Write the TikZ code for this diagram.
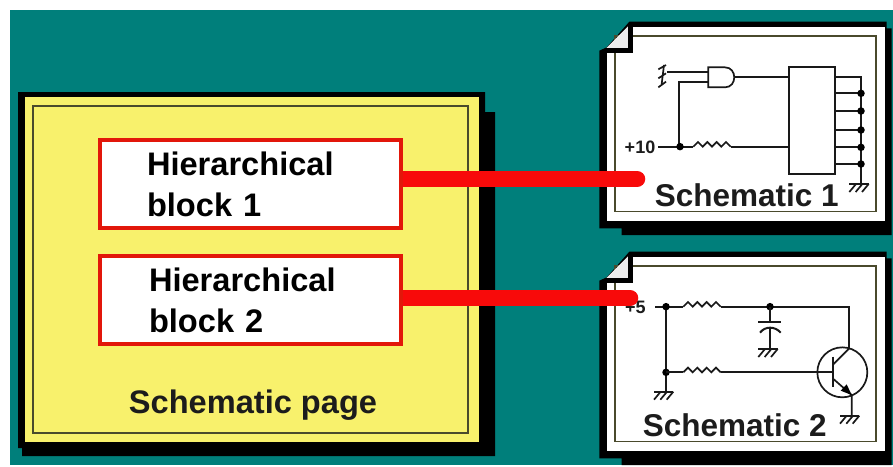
\documentclass[tikz,border=0pt]{standalone}
\usepackage{fontspec}
\setmainfont{Liberation Sans}
\definecolor{tealbg}{HTML}{007F7B}
\definecolor{pageyellow}{HTML}{F8F16C}
\definecolor{linkred}{HTML}{F80A0A}
\definecolor{blockred}{HTML}{E2170A}
\definecolor{innerline}{HTML}{4A4A2C}
\definecolor{inktext}{HTML}{1C1C1C}
\tikzset{
  blockbox/.style={draw=blockred,line width=4pt,fill=white,inner ysep=0pt,minimum height=88.5pt,align=left,text=black,
    font=\fontsize{32.6}{41}\selectfont\bfseries},
  biglabel/.style={anchor=base,inner sep=0pt,text=inktext,font=\fontsize{31.5}{36}\selectfont\bfseries},
  pagelabelstyle/.style={anchor=base,inner sep=0pt,text=inktext,font=\fontsize{32.6}{36}\selectfont\bfseries},
  smalllabel/.style={anchor=base,inner sep=0pt,text=inktext,font=\fontsize{18}{20}\selectfont\bfseries},
  wire/.style={line width=1.7pt,draw=black!90},
  link/.style={draw=linkred,line width=16.5pt,line cap=round},
  dotmark/.style={circle,fill=black,inner sep=0pt,minimum size=7.5pt}
}
% folder-style sheet frame, in 3x zoom units
\newcommand{\sheetframe}{%
  \fill[black] (118,35) -- (890,35) -- (890,55) -- (905,55) -- (905,675) -- (95,675) -- (95,655) -- (28,655) -- (28,122) -- (50,112) -- cycle;
  \fill[white] (130,52) rectangle (885,632);
  \fill[white] (50,130) rectangle (885,632);
  \draw[innerline,line width=1.6pt] (75,78) rectangle (858,605);
  \fill[white] (130,52) rectangle (135,74);
  \fill[white!93!black] (48,115) -- (115,48) -- (115,115) -- cycle;
  \draw[black,line width=5pt] (122,46) -- (122,122) -- (45,122);
}
\newcommand{\gndmark}[2]{%
  \draw[wire] (#1-30,#2) -- (#1+28,#2);
  \draw[wire] (#1-10,#2) -- ++(-20,24) (#1+9,#2) -- ++(-20,24) (#1+28,#2) -- ++(-20,24);
}
\newcommand{\resmark}[2]{%
  \draw[wire] (#1,#2) -- ++(14,-14) -- ++(14,14) -- ++(14,-14) -- ++(14,14) -- ++(14,-14) -- ++(14,14) -- ++(14,-14) -- ++(14,14);
}
\begin{document}
\begin{tikzpicture}[x=1pt,y=-1pt]
\useasboundingbox (0,0) rectangle (893,466);
\fill[white] (0,0) rectangle (893,466);
\fill[tealbg] (10,10) rectangle (893,465);
% main page
\fill[black] (18,92) -- (485,92) -- (485,112) -- (495,112) -- (495,456) -- (22,456) -- (22,448) -- (18,448) -- cycle;
\fill[pageyellow] (25,97) rectangle (479,442);
\draw[innerline,line width=1.6pt] (33,106) rectangle (468,433);
\node[blockbox,inner xsep=47pt,text width=207pt] (block1) at (250.5,184) {Hierarchical\\block 1};
\node[blockbox,inner xsep=49pt,text width=203pt] (block2) at (250.5,300) {Hierarchical\\block 2};
\node[pagelabelstyle] (pagelabel) at (253,413) {Schematic page};
% schematic 1
\begin{scope}[shift={(590,10)},x=0.33333pt,y=-0.33333pt]
\sheetframe
\node[biglabel] (sch1label) at (470,588) {Schematic 1};
\node[smalllabel] (plusten) at (150,431) {+10};
\draw[wire] (205,178) -- (228,165) (205,205) -- (228,190) (205,232) -- (228,215) (222,165) -- (215,222);
\draw[wire] (232,185) -- (355,185);
\draw[wire] (355,172) -- (405,172) .. controls (442,172) and (442,232) .. (405,232) -- (355,232) -- cycle;
\draw[wire] (355,215) -- (268,215) -- (268,410);
\draw[wire] (435,200) -- (597,200);
\draw[wire] (597,172) rectangle (735,492);
\draw[wire] (205,410) -- (310,410);
\resmark{310}{410}
\draw[wire] (422,410) -- (597,410);
\node[dotmark] at (270,410) {};
\draw[wire] (735,200) -- (813,200) -- (813,520);
\foreach \yy in {250,303,360,412,462} {
  \draw[wire] (735,\yy) -- (813,\yy);
  \node[dotmark] at (813,\yy) {};
}
\gndmark{808}{522}
\end{scope}
% schematic 2
\begin{scope}[shift={(590,240)},x=0.33333pt,y=-0.33333pt]
\sheetframe
\node[biglabel] (sch2label) at (434,588) {Schematic 2};
\node[smalllabel] (plusfive) at (136,220) {+5};
\draw[wire] (195,200) -- (280,200);
\resmark{280}{200}
\draw[wire] (392,200) -- (778,200) -- (778,325);
\draw[wire] (228,200) -- (228,452);
\node[dotmark] at (228,200) {};
\node[dotmark] at (228,397) {};
\node[dotmark] at (540,200) {};
\gndmark{222}{455}
\draw[wire] (228,397) -- (280,397);
\resmark{280}{397}
\draw[wire] (392,397) -- (725,397);
\draw[wire] (540,200) -- (540,245);
\draw[wire,line width=2pt] (505,245) -- (572,245);
\draw[wire,line width=2pt] (510,278) .. controls (525,258) and (555,258) .. (572,278);
\draw[wire] (540,262) -- (540,325);
\gndmark{535}{327}
\draw[wire] (757,397) circle[radius=75];
\draw[wire,line width=2.2pt] (728,350) -- (728,442);
\draw[wire] (728,375) -- (778,325);
\draw[wire] (728,415) -- (785,465) -- (785,525);
\fill[black] (785,465) -- (752,452) -- (770,433) -- cycle;
\gndmark{780}{527}
\end{scope}
% links
\coordinate (link1start) at (403,179);
\coordinate (link1end) at (637,179);
\coordinate (link2start) at (403,298);
\coordinate (link2end) at (630,298);
\draw[link,line cap=butt] (link1start) -- ++(12,0);
\draw[link] (link1start) ++(9,0) -- (link1end);
\draw[link,line cap=butt] (link2start) -- ++(12,0);
\draw[link] (link2start) ++(9,0) -- (link2end);
\end{tikzpicture}
\end{document}
